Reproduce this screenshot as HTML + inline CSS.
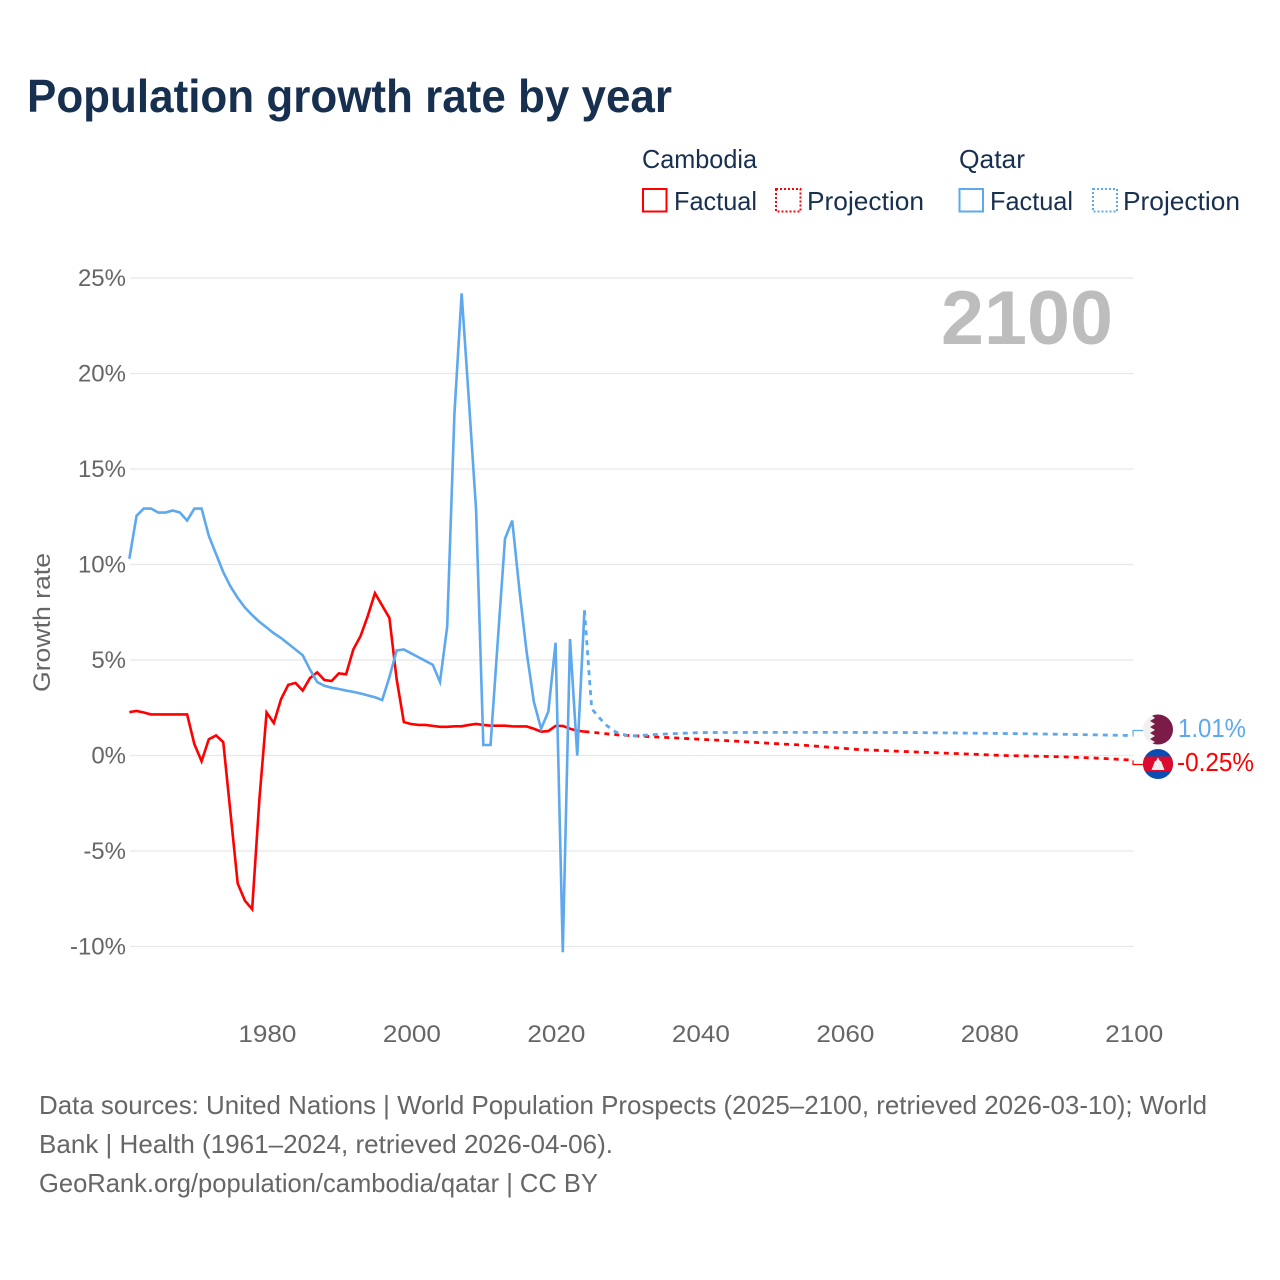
<!DOCTYPE html>
<html lang="en">
<head>
<meta charset="utf-8">
<title>Population growth rate by year</title>
<style>
html,body{margin:0;padding:0;background:#fff;width:1280px;height:1280px;overflow:hidden}
svg{display:block;font-family:"Liberation Sans",sans-serif}
.leg{font-size:26px;fill:#18304f}
.tick{font-size:24px;fill:#666}
.foot{font-size:26px;fill:#666}
</style>
</head>
<body>
<svg id="chart" xmlns="http://www.w3.org/2000/svg" width="1280" height="1280" viewBox="0 0 1280 1280">
  <defs>
    <clipPath id="flag-clip-qa"><circle cx="1158" cy="729.5" r="15"/></clipPath>
    <clipPath id="flag-clip-kh"><circle cx="1158" cy="764" r="15"/></clipPath>
  </defs>
  <text x="27" y="112" font-size="46" font-weight="700" fill="#18304f" textLength="645" lengthAdjust="spacingAndGlyphs">Population growth rate by year</text>

  <g>
    <text class="leg" x="642" y="168" textLength="115" lengthAdjust="spacingAndGlyphs">Cambodia</text>
    <rect x="643" y="189" width="23.5" height="22.5" fill="none" stroke="#ff0000" stroke-width="2"/>
    <text class="leg" x="674" y="210" textLength="83" lengthAdjust="spacingAndGlyphs">Factual</text>
    <rect x="776" y="189" width="24.5" height="22.5" fill="none" stroke="#ff0000" stroke-width="2" stroke-dasharray="2 2"/>
    <text class="leg" x="807" y="210" textLength="117" lengthAdjust="spacingAndGlyphs">Projection</text>
    <text class="leg" x="959" y="168" textLength="66" lengthAdjust="spacingAndGlyphs">Qatar</text>
    <rect x="959.5" y="189" width="23.5" height="22.5" fill="none" stroke="#5ea8ee" stroke-width="2"/>
    <text class="leg" x="990" y="210" textLength="83" lengthAdjust="spacingAndGlyphs">Factual</text>
    <rect x="1093" y="189" width="24" height="22.5" fill="none" stroke="#5ea8ee" stroke-width="2" stroke-dasharray="2 2"/>
    <text class="leg" x="1123" y="210" textLength="117" lengthAdjust="spacingAndGlyphs">Projection</text>
  </g>

  <g id="grid"></g>
  <g id="yticks"></g>
  <g id="xticks"></g>
  <text class="tick" transform="translate(50,622.5) rotate(-90)" text-anchor="middle" font-size="24" textLength="139" lengthAdjust="spacingAndGlyphs">Growth rate</text>
  <text x="941" y="344" font-size="76" font-weight="700" fill="#bdbdbd" textLength="172" lengthAdjust="spacingAndGlyphs">2100</text>
  <g id="series"></g>

  <g clip-path="url(#flag-clip-qa)">
    <rect x="1143" y="714" width="30" height="31" fill="#f0f0f0"/>
    <polygon points="1150,714 1173,714 1173,745 1150,745 1155,742 1150,739 1155,736 1150,733 1155,730 1150,727 1155,724 1150,721 1155,718" fill="#7a1c47"/>
  </g>
  <g clip-path="url(#flag-clip-kh)">
    <rect x="1143" y="749" width="30" height="30" fill="#0b4eb3"/>
    <rect x="1143" y="756.5" width="30" height="15" fill="#dc0a2e"/>
    <polygon points="1158,757.5 1160,761 1161,761 1164.5,770 1151.5,770 1155,761 1156,761" fill="#eeeeee"/>
  </g>
  <text id="label-qa" x="1178" y="737" font-size="26" fill="#5ea8ee" textLength="68" lengthAdjust="spacingAndGlyphs"></text>
  <text id="label-kh" x="1177" y="771" font-size="26" fill="#ff0000" textLength="77" lengthAdjust="spacingAndGlyphs"></text>

  <g>
    <text class="foot" x="39" y="1114" textLength="1168" lengthAdjust="spacingAndGlyphs">Data sources: United Nations | World Population Prospects (2025–2100, retrieved 2026-03-10); World</text>
    <text class="foot" x="39" y="1153" textLength="574" lengthAdjust="spacingAndGlyphs">Bank | Health (1961–2024, retrieved 2026-04-06).</text>
    <text class="foot" x="39" y="1192" textLength="559" lengthAdjust="spacingAndGlyphs">GeoRank.org/population/cambodia/qatar | CC BY</text>
  </g>
</svg>
<script>
const yTickValues = [25, 20, 15, 10, 5, 0, -5, -10];
const yTickLabels = ["25%", "20%", "15%", "10%", "5%", "0%", "-5%", "-10%"];
const xTickValues = [1980, 2000, 2020, 2040, 2060, 2080, 2100];
const xTickLabels = ["1980", "2000", "2020", "2040", "2060", "2080", "2100"];

const factualYears = [1961,1962,1963,1964,1965,1966,1967,1968,1969,1970,1971,1972,1973,1974,1975,1976,1977,1978,1979,1980,1981,1982,1983,1984,1985,1986,1987,1988,1989,1990,1991,1992,1993,1994,1995,1996,1997,1998,1999,2000,2001,2002,2003,2004,2005,2006,2007,2008,2009,2010,2011,2012,2013,2014,2015,2016,2017,2018,2019,2020,2021,2022,2023,2024];
const cambodiaFactual = [2.27,2.33,2.25,2.15,2.15,2.15,2.15,2.15,2.15,0.6,-0.3,0.85,1.05,0.7,-3,-6.7,-7.6,-8.05,-2.3,2.25,1.7,2.95,3.7,3.8,3.4,4.05,4.35,3.95,3.9,4.3,4.25,5.55,6.25,7.3,8.5,7.85,7.2,4.0,1.75,1.65,1.6,1.6,1.55,1.5,1.5,1.53,1.53,1.6,1.65,1.6,1.56,1.56,1.56,1.53,1.52,1.52,1.4,1.25,1.28,1.55,1.55,1.4,1.3,1.25];
const qatarFactual = [10.3,12.55,12.93,12.93,12.72,12.72,12.83,12.72,12.3,12.93,12.93,11.5,10.55,9.6,8.85,8.25,7.75,7.35,7.0,6.7,6.4,6.15,5.85,5.55,5.25,4.5,3.85,3.65,3.55,3.48,3.4,3.33,3.25,3.15,3.05,2.9,4.1,5.5,5.55,5.35,5.15,4.95,4.75,3.85,6.75,17.9,24.2,18.6,12.85,0.55,0.55,6,11.35,12.3,8.65,5.4,2.8,1.4,2.3,5.9,-10.3,6.1,0,7.6];

const cambodiaProjectionYears = [2024,2025,2026,2027,2028,2029,2030,2031,2035,2040,2045,2050,2054,2058,2062,2067,2072,2077,2082,2087,2091,2095,2098,2100];
const cambodiaProjection = [1.25,1.22,1.18,1.14,1.1,1.07,1.05,1.03,0.95,0.85,0.75,0.63,0.55,0.43,0.31,0.23,0.15,0.08,0,-0.04,-0.08,-0.14,-0.2,-0.25];
const qatarProjectionYears = [2024,2025,2026,2027,2028,2029,2030,2031,2033,2036,2040,2050,2060,2070,2080,2085,2090,2095,2099,2100];
const qatarProjection = [7.6,2.45,2.0,1.6,1.3,1.12,1.05,1.03,1.08,1.14,1.2,1.21,1.21,1.2,1.16,1.14,1.11,1.08,1.05,1.05];

const endValueCambodia = "-0.25%";
const endValueQatar = "1.01%";

const NS = "http://www.w3.org/2000/svg";
const xScale = function (year) { return 266.6 + (year - 1980) * (1133.5 - 266.6) / 120; };
const yScale = function (v) { return 755.5 - v * 19.1; };

function make(tag, parent) {
  const el = document.createElementNS(NS, tag);
  document.getElementById(parent).appendChild(el);
  return el;
}
function linePoints(years, values) {
  return years.map(function (yr, i) { return xScale(yr).toFixed(2) + "," + yScale(values[i]).toFixed(2); }).join(" ");
}

yTickValues.forEach(function (v, i) {
  const line = make("line", "grid");
  
  
  line.setAttribute("x1", 130);
  line.setAttribute("x2", 1133.5);
  line.setAttribute("y1", yScale(v));
  line.setAttribute("y2", yScale(v));
  line.setAttribute("stroke", "#e8e8e8");
  line.setAttribute("stroke-width", 1.3);
  const label = make("text", "yticks");
  
  
  label.setAttribute("class", "tick");
  label.setAttribute("x", 126);
  label.setAttribute("y", yScale(v) + 8);
  label.setAttribute("text-anchor", "end");
  label.textContent = yTickLabels[i];
});

xTickValues.forEach(function (yr, i) {
  const label = make("text", "xticks");
  
  
  label.setAttribute("class", "tick");
  label.setAttribute("x", xScale(yr) + 0.8);
  label.setAttribute("y", 1042);
  label.setAttribute("text-anchor", "middle");
  label.setAttribute("textLength", 58);
  label.setAttribute("lengthAdjust", "spacingAndGlyphs");
  label.textContent = xTickLabels[i];
});

const redFactual = make("polyline", "series");


redFactual.setAttribute("points", linePoints(factualYears, cambodiaFactual));
redFactual.setAttribute("fill", "none");
redFactual.setAttribute("stroke", "#ff0000");
redFactual.setAttribute("stroke-width", 2.6);

const redProjection = make("polyline", "series");


redProjection.setAttribute("points", linePoints(cambodiaProjectionYears, cambodiaProjection));
redProjection.setAttribute("fill", "none");
redProjection.setAttribute("stroke", "#ff0000");
redProjection.setAttribute("stroke-width", 2.8);
redProjection.setAttribute("stroke-dasharray", "5 5");

const blueFactual = make("polyline", "series");


blueFactual.setAttribute("points", linePoints(factualYears, qatarFactual));
blueFactual.setAttribute("fill", "none");
blueFactual.setAttribute("stroke", "#5ea8ee");
blueFactual.setAttribute("stroke-width", 2.6);

const blueProjection = make("polyline", "series");


blueProjection.setAttribute("points", linePoints(qatarProjectionYears, qatarProjection));
blueProjection.setAttribute("fill", "none");
blueProjection.setAttribute("stroke", "#5ea8ee");
blueProjection.setAttribute("stroke-width", 2.8);
blueProjection.setAttribute("stroke-dasharray", "5 5");

const blueLast = yScale(qatarProjection[qatarProjection.length - 1]);
const blueConnector = make("polyline", "series");


blueConnector.setAttribute("points", "1133," + blueLast + " 1133,730.5 1143,730.5");
blueConnector.setAttribute("fill", "none");
blueConnector.setAttribute("stroke", "#5ea8ee");
blueConnector.setAttribute("stroke-width", 1.2);

const redLast = yScale(cambodiaProjection[cambodiaProjection.length - 1]);
const redConnector = make("polyline", "series");


redConnector.setAttribute("points", "1133," + redLast + " 1133,764.5 1143,764.5");
redConnector.setAttribute("fill", "none");
redConnector.setAttribute("stroke", "#ff0000");
redConnector.setAttribute("stroke-width", 1.2);

document.getElementById("label-qa").textContent = endValueQatar;
document.getElementById("label-kh").textContent = endValueCambodia;
</script>
</body>
</html>
